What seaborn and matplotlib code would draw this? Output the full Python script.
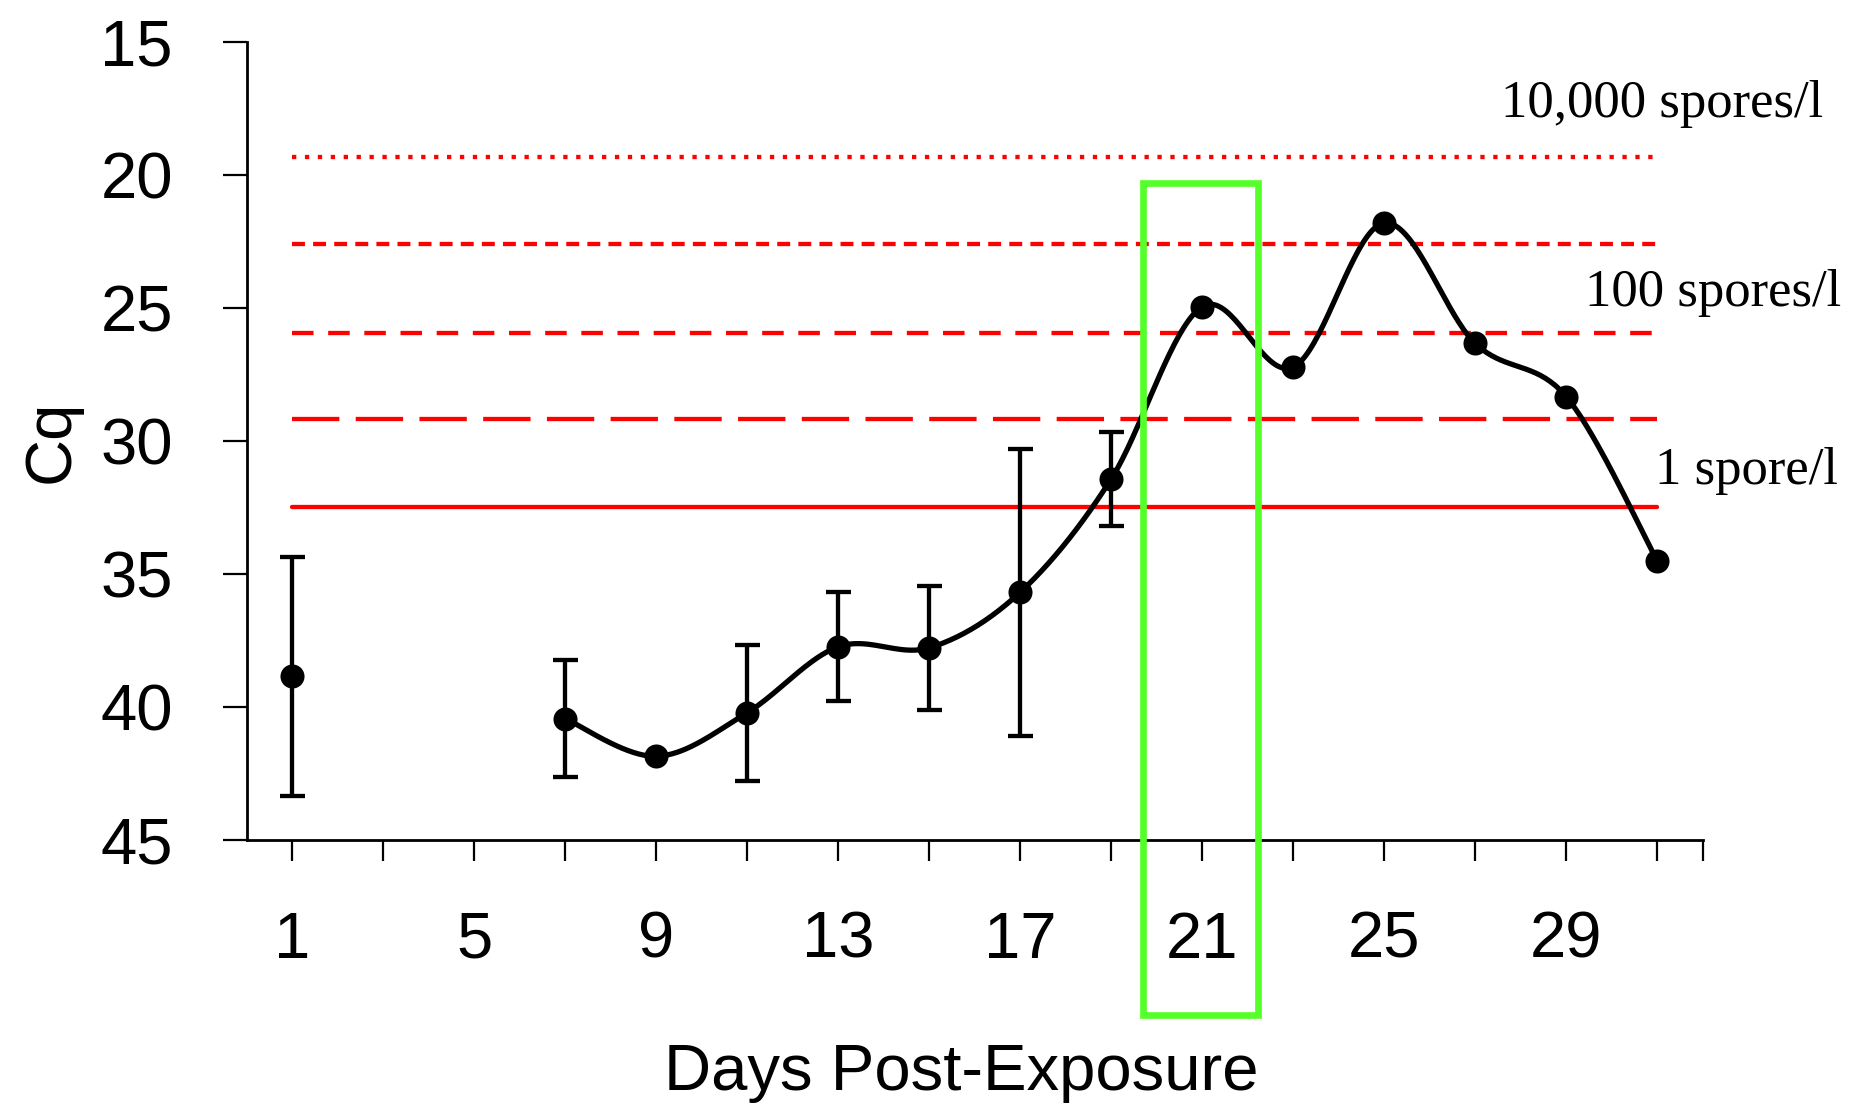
import matplotlib
matplotlib.use("Agg")
import numpy as np
import pandas as pd
import matplotlib.pyplot as plt
import seaborn as sns
from matplotlib.patches import Rectangle

# --- data ------------------------------------------------------------
days = [1, 7, 9, 11, 13, 15, 17, 19, 21, 23, 25, 27, 29, 31]
cq = [38.84, 40.43, 41.85, 40.21, 37.73, 37.77, 35.68, 31.42,
      24.94, 27.21, 21.79, 26.32, 28.32, 34.49]
cq_err = [4.5, 2.2, 0, 2.55, 2.05, 2.33, 5.4, 1.78, 0, 0, 0, 0, 0, 0]

# detection thresholds (Cq) and their line styles
thr_cq = [19.31, 22.59, 25.92, 29.16, 32.49]
thr_style = [(0, (1.0, 2.0)), (0, (3.0, 1.9)), (0, (5.0, 3.4)),
             (0, (11.0, 3.8)), "-"]
thr_labels = ["10,000 spores/l", "100 spores/l", "1 spore/l"]
thr_label_pos = [(34.65, 17.31), (35.04, 24.41), (34.98, 31.11)]

x_major = [1, 5, 9, 13, 17, 21, 25, 29]
y_ticks = [15, 20, 25, 30, 35, 40, 45]
highlight_day = 21


def smooth(xs, ys, n=40):
    # Excel-like smoothed line: cubic Bezier with Catmull-Rom control points
    xs, ys = np.asarray(xs, float), np.asarray(ys, float)
    px = np.r_[xs[0], xs, xs[-1]]
    py = np.r_[ys[0], ys, ys[-1]]
    out_x, out_y = [], []
    t = np.linspace(0, 1, n)
    for i in range(1, len(px) - 2):
        p0 = np.array([px[i], py[i]])
        p3 = np.array([px[i + 1], py[i + 1]])
        c1 = p0 + (np.array([px[i + 1], py[i + 1]]) - np.array([px[i - 1], py[i - 1]])) / 6
        c2 = p3 - (np.array([px[i + 2], py[i + 2]]) - np.array([px[i], py[i]])) / 6
        b = ((1 - t) ** 3)[:, None] * p0 + (3 * (1 - t) ** 2 * t)[:, None] * c1 \
            + (3 * (1 - t) * t ** 2)[:, None] * c2 + (t ** 3)[:, None] * p3
        out_x.extend(b[:, 0])
        out_y.extend(b[:, 1])
    return pd.DataFrame({"day": out_x, "cq": out_y})


sns.set_theme(style="white")
plt.rcParams["font.family"] = ["Liberation Sans", "DejaVu Sans"]
plt.rcParams["text.color"] = "black"
plt.rcParams["axes.labelcolor"] = "black"

fig = plt.figure(figsize=(18.5, 11.09), dpi=100)
ax = fig.add_axes([0.1333, 0.2425, 0.7871, 0.7192])

df = pd.DataFrame({"day": days, "cq": cq, "err": cq_err})

# threshold lines
for y, ls in zip(thr_cq, thr_style):
    ax.plot([days[0], days[-1]], [y, y], color="#ff0000", lw=3.1,
            linestyle=ls, zorder=1)
for txt, (tx, ty) in zip(thr_labels, thr_label_pos):
    ax.text(tx, ty, txt, ha="right", va="center", fontsize=38,
            family=["Liberation Serif"], color="black", clip_on=False)

# smoothed curve (day 1 stands alone)
curve = smooth(days[1:], cq[1:])
sns.lineplot(data=curve, x="day", y="cq", sort=False, color="black",
             lw=3.8, ax=ax, zorder=3)

# error bars and points
eb = df[df["err"] > 0]
ax.errorbar(eb["day"], eb["cq"], yerr=eb["err"], fmt="none", ecolor="black",
            elinewidth=3.1, capsize=9, capthick=3.1, zorder=3)
sns.scatterplot(data=df, x="day", y="cq", color="black", s=300,
                linewidth=0, ax=ax, zorder=4)

# green highlight box around day 21
ax.add_patch(Rectangle((highlight_day - 1.29, 20.28), 2.51, 31.3,
                       fill=False, edgecolor="#55ff2a", lw=4.8,
                       clip_on=False, zorder=5))

ax.set_xlim(0, 32)
ax.set_ylim(45, 15)
ax.set_yticks(y_ticks)
ax.set_xticks(x_major)
ax.set_xticks([3, 7, 11, 15, 19, 23, 27, 31, 32], minor=True)
ax.tick_params(axis="y", direction="out", length=17, width=1.6,
               labelsize=47, pad=36, left=True, colors="black")
ax.tick_params(axis="x", which="both", direction="out", length=15,
               width=1.6, bottom=True, colors="black")
ax.tick_params(axis="x", which="major", labelsize=47, pad=36)

for side in ["top", "right"]:
    ax.spines[side].set_visible(False)
for side in ["left", "bottom"]:
    ax.spines[side].set_color("black")
    ax.spines[side].set_linewidth(2.0)

ax.set_xlabel("Days Post-Exposure", fontsize=47)
ax.set_ylabel("Cq", fontsize=47)
ax.xaxis.set_label_coords(0.491, -0.254)
ax.yaxis.set_label_coords(-0.113, 0.5)

fig.savefig("out.png", dpi=100)
